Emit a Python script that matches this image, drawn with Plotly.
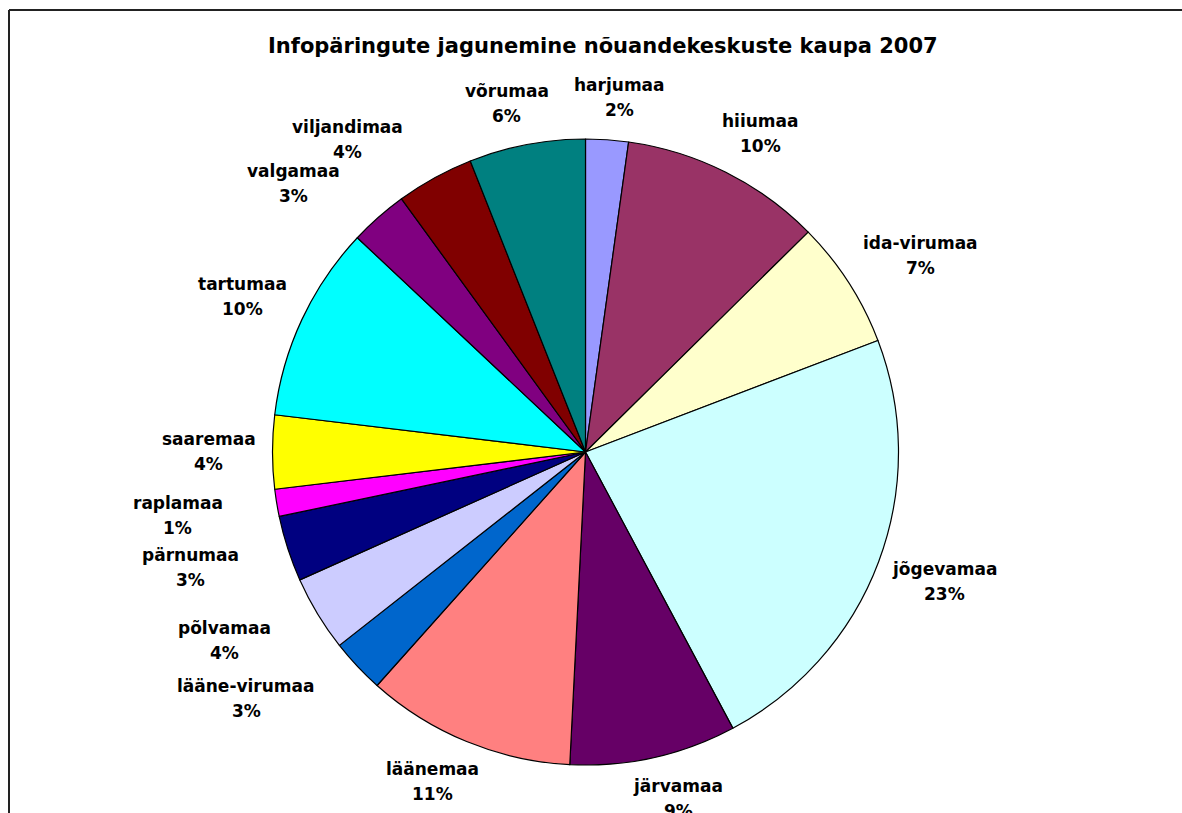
import math
import plotly.graph_objects as go

# ---- data ----
labels = ["harjumaa", "hiiumaa", "ida-virumaa", "jõgevamaa", "järvamaa", "läänemaa",
          "lääne-virumaa", "põlvamaa", "pärnumaa", "raplamaa", "saaremaa", "tartumaa",
          "valgamaa", "viljandimaa", "võrumaa"]
values = [2.2, 10.4, 6.6, 23.0, 8.6, 10.8, 2.8, 3.9, 3.4, 1.4, 3.8, 10.1, 3.0, 4.0, 6.0]
colors = ["#9999FF", "#993366", "#FFFFCC", "#CCFFFF", "#660066", "#FF8080",
          "#0066CC", "#CCCCFF", "#000080", "#FF00FF", "#FFFF00", "#00FFFF",
          "#800080", "#800000", "#008080"]
title_text = "Infopäringute jagunemine nõuandekeskuste kaupa 2007"

# ---- layout geometry ----
W, H = 1182, 813
CX, CY, R = 585.5, 452.0, 313.0   # pie centre / radius in pixels
FONT = "DejaVu Sans"
LBL_SIZE = 17
GAP = 20
LINE = 25
BOX_H = 44
MIN_DY = 76      # vertical spacing below which neighbouring labels collide
MIN_DX = 40      # horizontal clearance below which neighbouring labels collide
PUSH = 36        # horizontal outward shift applied to a colliding label


def sroot(t, p=0.5):
    return math.copysign(abs(t) ** p, t)


fig = go.Figure(go.Pie(
    labels=labels, values=values, sort=False, direction="clockwise", rotation=0,
    marker=dict(colors=colors, line=dict(color="black", width=1.2)),
    textinfo="none", hoverinfo="label+percent", showlegend=False,
    domain=dict(x=[(CX - R) / W, (CX + R) / W], y=[1 - (CY + R) / H, 1 - (CY - R) / H]),
))

total = sum(values)
cum = 0.0
items = []
for name, v in zip(labels, values):
    mid = (cum + v / 2) / total * 2 * math.pi
    cum += v
    pct = f"{round(v / total * 100):d}%"
    s, c = math.sin(mid), math.cos(mid)
    w = max(len(name), len(pct)) * 0.64 * LBL_SIZE
    px = CX + (R + GAP) * s + sroot(s) * w / 2
    py = CY - (R + GAP) * c - sroot(c) * BOX_H / 2
    items.append(dict(name=name, pct=pct, x=px, y=py, w=w, s=s, ang=mid))

# label collision handling: walk each side away from 12 o'clock and shift a
# label outward when it crowds the previous one
right = [it for it in items if it["s"] >= 0]
left = sorted([it for it in items if it["s"] < 0], key=lambda it: -it["ang"])
for side, seq in ((1, right), (-1, left)):
    for a, b in zip(seq[:-1], seq[1:]):
        clear_x = abs(a["x"] - b["x"]) - (a["w"] + b["w"]) / 2
        if abs(b["y"] - a["y"]) < MIN_DY and clear_x < MIN_DX:
            b["x"] += side * PUSH

annotations = []
for it in items:
    for txt, dy in ((it["name"], -LINE / 2), (it["pct"], LINE / 2)):
        annotations.append(dict(
            x=it["x"] / W, y=1 - (it["y"] + dy) / H, xref="paper", yref="paper",
            text=f"<b>{txt}</b>", showarrow=False, xanchor="center", yanchor="middle",
            font=dict(family=FONT, size=LBL_SIZE, color="black")))

annotations.append(dict(
    x=603 / W, y=1 - 46 / H, xref="paper", yref="paper",
    text=f"<b>{title_text}</b>", showarrow=False, xanchor="center", yanchor="middle",
    font=dict(family=FONT, size=21, color="black")))

shapes = [
    dict(type="line", xref="paper", yref="paper", x0=9 / W, x1=1.05, y0=1 - 10 / H, y1=1 - 10 / H,
         line=dict(color="#222222", width=2)),
    dict(type="line", xref="paper", yref="paper", x0=9 / W, x1=9 / W, y0=1 - 10 / H, y1=-0.05,
         line=dict(color="#222222", width=2)),
]

fig.update_layout(
    width=W, height=H, margin=dict(l=0, r=0, t=0, b=0),
    paper_bgcolor="white", plot_bgcolor="white",
    annotations=annotations, shapes=shapes,
)

fig.write_html("out.html", config={"displayModeBar": False},
               post_script="document.body.style.margin='0';document.body.style.overflow='hidden';")
